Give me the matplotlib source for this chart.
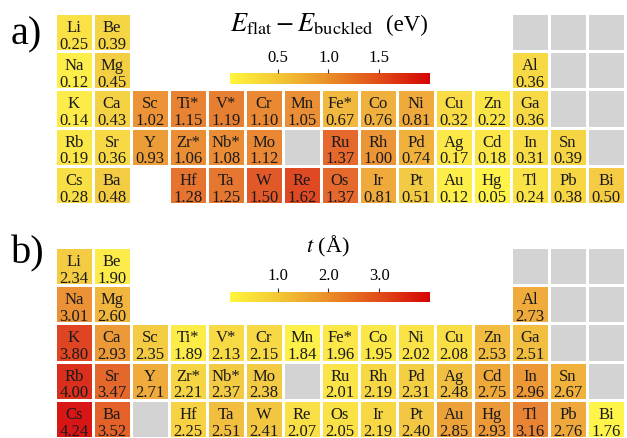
import numpy as np
import matplotlib
matplotlib.use("Agg")
import matplotlib.pyplot as plt
from matplotlib.colors import LinearSegmentedColormap, Normalize, ListedColormap
from matplotlib.cm import ScalarMappable

plt.rcParams['font.family'] = 'serif'
plt.rcParams['font.serif'] = ['Liberation Serif', 'STIXGeneral', 'DejaVu Serif']
plt.rcParams['mathtext.fontset'] = 'stix'

# ---------------- data ----------------
symbols = ["Li", "Be",
           "Na", "Mg", "Al",
           "K", "Ca", "Sc", "Ti*", "V*", "Cr", "Mn", "Fe*", "Co", "Ni", "Cu", "Zn", "Ga",
           "Rb", "Sr", "Y", "Zr*", "Nb*", "Mo", "Ru", "Rh", "Pd", "Ag", "Cd", "In", "Sn",
           "Cs", "Ba", "Hf", "Ta", "W", "Re", "Os", "Ir", "Pt", "Au", "Hg", "Tl", "Pb", "Bi"]
# table column (1..15) and period row (1..5) of each element
groups = [1, 2,
          1, 2, 13,
          1, 2, 3, 4, 5, 6, 7, 8, 9, 10, 11, 12, 13,
          1, 2, 3, 4, 5, 6, 8, 9, 10, 11, 12, 13, 14,
          1, 2, 4, 5, 6, 7, 8, 9, 10, 11, 12, 13, 14, 15]
periods = [1, 1,
           2, 2, 2,
           3, 3, 3, 3, 3, 3, 3, 3, 3, 3, 3, 3, 3,
           4, 4, 4, 4, 4, 4, 4, 4, 4, 4, 4, 4, 4,
           5, 5, 5, 5, 5, 5, 5, 5, 5, 5, 5, 5, 5, 5]

e_diff = [0.25, 0.39,
          0.12, 0.45, 0.36,
          0.14, 0.43, 1.02, 1.15, 1.19, 1.10, 1.05, 0.67, 0.76, 0.81, 0.32, 0.22, 0.36,
          0.19, 0.36, 0.93, 1.06, 1.08, 1.12, 1.37, 1.00, 0.74, 0.17, 0.18, 0.31, 0.39,
          0.28, 0.48, 1.28, 1.25, 1.50, 1.62, 1.37, 0.81, 0.51, 0.12, 0.05, 0.24, 0.38, 0.50]
thickness = [2.34, 1.90,
             3.01, 2.60, 2.73,
             3.80, 2.93, 2.35, 1.89, 2.13, 2.15, 1.84, 1.96, 1.95, 2.02, 2.08, 2.53, 2.51,
             4.00, 3.47, 2.71, 2.21, 2.37, 2.38, 2.01, 2.19, 2.31, 2.48, 2.75, 2.96, 2.67,
             4.24, 3.52, 2.25, 2.51, 2.41, 2.07, 2.05, 2.19, 2.40, 2.85, 2.93, 3.16, 2.76, 1.76]

# elements without data (grey cells)
missing_a = ["B", "C", "N", "Si", "P", "Ge", "As", "Tc", "Sb"]
missing_a_groups = [13, 14, 15, 14, 15, 14, 15, 7, 15]
missing_a_periods = [1, 1, 1, 2, 2, 3, 3, 4, 4]
missing_b = ["B", "C", "N", "Si", "P", "Ge", "As", "Tc", "Sb", "La"]
missing_b_groups = [13, 14, 15, 14, 15, 14, 15, 7, 15, 3]
missing_b_periods = [1, 1, 1, 2, 2, 3, 3, 4, 4, 5]

ticks_a = [0.5, 1.0, 1.5]
ticks_b = [1.0, 2.0, 3.0]
range_cbar_a = (0.03, 2.0)
range_cbar_b = (0.06, 4.0)
range_cells_a = (0.03, 2.0)
range_cells_b = (min(thickness), max(thickness))

# ---------------- style ----------------
W, H = 627, 439
cmap = LinearSegmentedColormap.from_list(
    "ylred", ["#fff53c", "#f3c534", "#ea8c27", "#e04c18", "#d50404"])
gray_cmap = ListedColormap(["#d3d3d3"])
NCOL, NROW = 15, 5


def fig_rect(x0, y0, x1, y1):
    return [x0 / W, 1 - y1 / H, (x1 - x0) / W, (y1 - y0) / H]


fig = plt.figure(figsize=(W / 100, H / 100), dpi=100)


def draw_table(top, values, rng, miss_g, miss_p):
    ax = fig.add_axes(fig_rect(55, top, 625, top + 5 * 38.2))
    grid = np.full((NROW, NCOL), np.nan)
    for g, p, v in zip(groups, periods, values):
        grid[p - 1, g - 1] = v
    ggrid = np.full((NROW, NCOL), np.nan)
    for g, p in zip(miss_g, miss_p):
        ggrid[p - 1, g - 1] = 1
    xe = np.arange(NCOL + 1)
    ye = np.arange(NROW + 1)
    ax.pcolormesh(xe, ye, np.ma.masked_invalid(grid), cmap=cmap, norm=Normalize(*rng),
                  edgecolors="white", linewidth=1.0, alpha=0.93)
    ax.pcolormesh(xe, ye, np.ma.masked_invalid(ggrid), cmap=gray_cmap,
                  edgecolors="white", linewidth=1.0)
    for s, g, p, v in zip(symbols, groups, periods, values):
        ax.text(g - 0.5, p - 1 + 0.47, s, ha="center", va="baseline",
                fontsize=12, color="#1a1a1a")
        ax.text(g - 0.5, p - 1 + 0.91, f"{v:.2f}", ha="center", va="baseline",
                fontsize=12, color="#1a1a1a")
    ax.set_xlim(0, NCOL)
    ax.set_ylim(NROW, 0)
    ax.axis("off")
    return ax


def draw_cbar(y0, y1, rng, ticks):
    cax = fig.add_axes(fig_rect(230, y0, 430, y1))
    sm = ScalarMappable(norm=Normalize(*rng), cmap=cmap)
    cb = fig.colorbar(sm, cax=cax, orientation="horizontal", ticks=ticks)
    cb.outline.set_visible(False)
    cax.xaxis.set_ticks_position("top")
    cax.set_xticklabels([f"{t:.1f}" for t in ticks])
    cax.tick_params(axis="x", length=3, width=0.8, color="#333333", pad=3,
                    labelsize=12)
    return cb


draw_table(14, e_diff, range_cells_a, missing_a_groups, missing_a_periods)
draw_table(248, thickness, range_cells_b, missing_b_groups, missing_b_periods)
draw_cbar(74, 85, range_cbar_a, ticks_a)
draw_cbar(292.7, 303.3, range_cbar_b, ticks_b)

# titles and panel labels
fig.text(230 / W, 1 - 31 / H, r"$E_{\mathrm{flat}} - E_{\mathrm{buckled}}$",
         ha="left", va="baseline", fontsize=19)
fig.text(428 / W, 1 - 31 / H, "(eV)", ha="right", va="baseline", fontsize=16.5)
fig.text(328 / W, 1 - 252 / H, r"$t$ (Å)", ha="center", va="baseline", fontsize=16)
fig.text(11 / W, 1 - 44 / H, "a)", ha="left", va="baseline", fontsize=29)
fig.text(11 / W, 1 - 263 / H, "b)", ha="left", va="baseline", fontsize=29)

fig.savefig("out.png", dpi=100)
